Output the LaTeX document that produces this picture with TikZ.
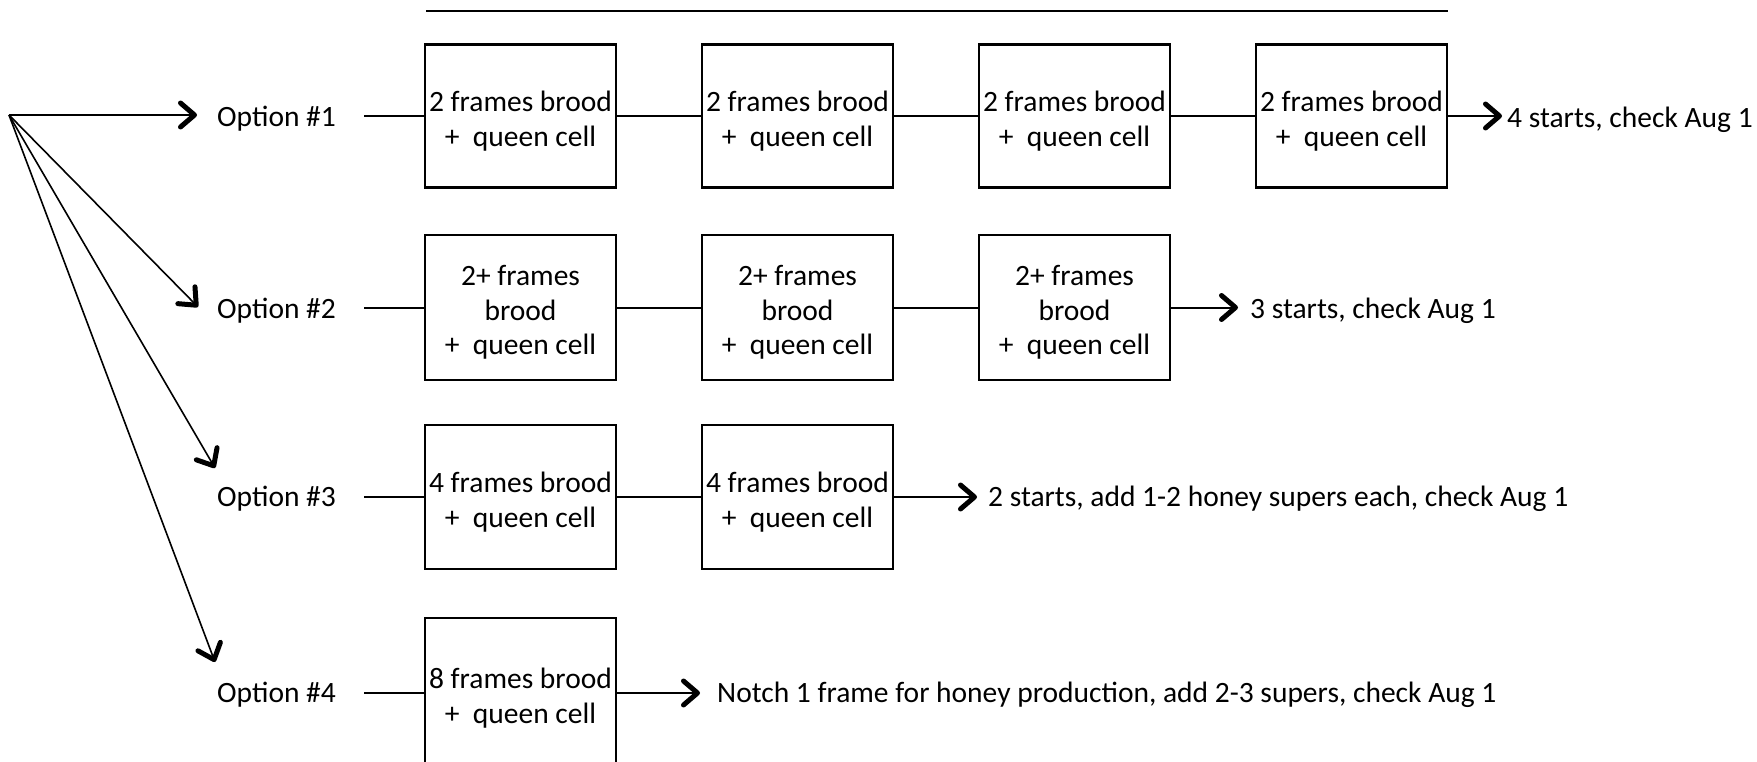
\documentclass[tikz,border=0pt]{standalone}
\usepackage{fontspec}
\setmainfont{Carlito}
\usetikzlibrary{arrows.meta}
\begin{document}
\begin{tikzpicture}[x=1pt,y=-1pt,
  every node/.style={font=\fontsize{29.5pt}{34.5pt}\selectfont},
  hivebox/.style={draw,line width=2.5pt,minimum width=191pt,minimum height=143pt,inner sep=0pt,
    label={[align=center,inner sep=0pt,yshift=-5pt]center:#1}},
  optlabel/.style={anchor=west,inner sep=0pt},
  endlabel/.style={anchor=west,inner sep=0pt},
  link/.style={line width=2pt},
  arr/.style={line width=2pt,-{Straight Barb[length=14pt,width=24pt,line width=5pt,round]}},
  fan/.style={line width=1.6pt,-{Straight Barb[length=14pt,width=24pt,line width=5pt,round]}}]
\useasboundingbox (0,0) rectangle (1757,762);
% top rule
\draw[line width=2pt] (426,11) -- (1448,11);
% source and fan arrows
\coordinate (src) at (9,115);
\coordinate (t1) at (197,115);
\coordinate (t2) at (198,307);
\coordinate (t3) at (215,468);
\coordinate (t4) at (215,662);
\draw[fan] (src) -- (t1);
\draw[fan] (src) -- (t2);
\draw[fan] (src) -- (t3);
\draw[fan] (src) -- (t4);
% option labels
\node[optlabel] (o1) at (217,119) {Option \#1};
\node[optlabel] (o2) at (217,311) {Option \#2};
\node[optlabel] (o3) at (217,499) {Option \#3};
\node[optlabel] (o4) at (217,695) {Option \#4};
% row 1
\node[hivebox={2 frames brood\\+\ \ queen cell}] (a1) at (520.5,116) {};
\node[hivebox={2 frames brood\\+\ \ queen cell}] (a2) at (797.5,116) {};
\node[hivebox={2 frames brood\\+\ \ queen cell}] (a3) at (1074.5,116) {};
\node[hivebox={2 frames brood\\+\ \ queen cell}] (a4) at (1351.5,116) {};
\node[endlabel] (e1) at (1507,120) {4 starts, check Aug 1};
% row 2
\node[hivebox={2+ frames\\brood\\+\ \ queen cell},minimum height=145pt] (b1) at (520.5,307.5) {};
\node[hivebox={2+ frames\\brood\\+\ \ queen cell},minimum height=145pt] (b2) at (797.5,307.5) {};
\node[hivebox={2+ frames\\brood\\+\ \ queen cell},minimum height=145pt] (b3) at (1074.5,307.5) {};
\node[endlabel] (e2) at (1250,311) {3 starts, check Aug 1};
% row 3
\node[hivebox={4 frames brood\\+\ \ queen cell},minimum height=144pt] (c1) at (520.5,497) {};
\node[hivebox={4 frames brood\\+\ \ queen cell},minimum height=144pt] (c2) at (797.5,497) {};
\node[endlabel] (e3) at (988,499) {2 starts, add 1-2 honey supers each, check Aug 1};
% row 4
\node[hivebox={8 frames brood\\+\ \ queen cell},minimum height=150pt] (d1) at (520.5,693) {};
\node[endlabel] (e4) at (717,695) {Notch 1 frame for honey production, add 2-3 supers, check Aug 1};
% connectors
\draw[link,shorten <=28pt] (o1.east |- a1.west) -- (a1.west);
\draw[link] (a1) -- (a2);
\draw[link] (a2) -- (a3);
\draw[link] (a3) -- (a4);
\draw[arr,shorten >=5pt] (a4.east) -- (e1.west |- a4.east);
\draw[link,shorten <=28pt] (o2.east |- b1.west) -- (b1.west);
\draw[link] (b1) -- (b2);
\draw[link] (b2) -- (b3);
\draw[arr,shorten >=12pt] (b3.east) -- (e2.west |- b3.east);
\draw[link,shorten <=28pt] (o3.east |- c1.west) -- (c1.west);
\draw[link] (c1) -- (c2);
\draw[arr,shorten >=11pt] (c2.east) -- (e3.west |- c2.east);
\draw[link,shorten <=28pt] (o4.east |- d1.west) -- (d1.west);
\draw[arr,shorten >=17pt] (d1.east) -- (e4.west |- d1.east);
\end{tikzpicture}
\end{document}
